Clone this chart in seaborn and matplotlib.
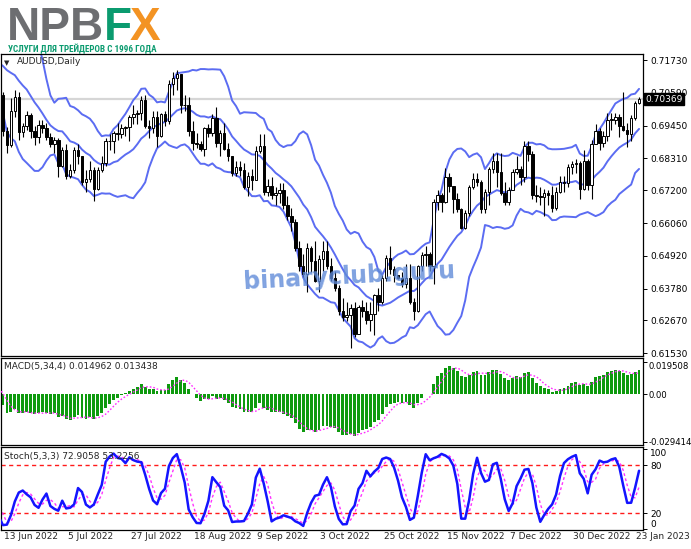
import matplotlib
matplotlib.use("Agg")
import matplotlib.pyplot as plt
import matplotlib.transforms as mtransforms
from matplotlib import font_manager
import seaborn as sns
import numpy as np
import pandas as pd

# bars before the first visible candle, only needed to start the indicators
warmup_high = [0.7385, 0.7410, 0.7460, 0.7455, 0.7385, 0.7240, 0.7200, 0.7170, 0.7180, 0.7160,
               0.7100, 0.7140, 0.7265, 0.7265, 0.7135, 0.7070, 0.6985, 0.7020, 0.6970, 0.6960,
               0.6990, 0.7060, 0.7070, 0.7055, 0.7075, 0.7100, 0.7125, 0.7105, 0.7135, 0.7170,
               0.7200, 0.7195, 0.7200, 0.7245, 0.7285, 0.7220, 0.7235, 0.7230, 0.7220, 0.7160]
warmup_low = [0.7330, 0.7325, 0.7385, 0.7365, 0.7225, 0.7135, 0.7110, 0.7105, 0.7055, 0.7050,
              0.7030, 0.7040, 0.7100, 0.7080, 0.7030, 0.6950, 0.6910, 0.6935, 0.6830, 0.6860,
              0.6875, 0.6970, 0.6930, 0.6925, 0.7020, 0.7030, 0.7055, 0.7035, 0.7050, 0.7120,
              0.7150, 0.7150, 0.7135, 0.7170, 0.7195, 0.7180, 0.7165, 0.7175, 0.7140, 0.7040]
warmup_close = [0.7350, 0.7395, 0.7450, 0.7375, 0.7240, 0.7165, 0.7125, 0.7140, 0.7160, 0.7065,
                0.7055, 0.7115, 0.7255, 0.7105, 0.7080, 0.6960, 0.6945, 0.6965, 0.6870, 0.6945,
                0.6985, 0.7040, 0.6950, 0.7040, 0.7045, 0.7090, 0.7070, 0.7080, 0.7125, 0.7160,
                0.7190, 0.7175, 0.7180, 0.7240, 0.7215, 0.7200, 0.7225, 0.7215, 0.7150, 0.7050]

# visible daily bars, 13 Jun 2022 .. 24 Jan 2023
high = [0.7060, 0.6940, 0.7040, 0.7070, 0.7060, 0.6955, 0.6995, 0.6990, 0.6945, 0.6965,
        0.6965, 0.6955, 0.6920, 0.6905, 0.6900, 0.6870, 0.6880, 0.6810, 0.6870, 0.6880,
        0.6840, 0.6790, 0.6820, 0.6800, 0.6800, 0.6840, 0.6900, 0.6915, 0.6925, 0.6955,
        0.6950, 0.6945, 0.6980, 0.7015, 0.7000, 0.7047, 0.7050, 0.6965, 0.6995, 0.6995,
        0.6990, 0.6995, 0.7105, 0.7130, 0.7137, 0.7110, 0.7050, 0.7045, 0.6960, 0.6920,
        0.6890, 0.6940, 0.6950, 0.6985, 0.7010, 0.6930, 0.6955, 0.6885, 0.6840, 0.6820,
        0.6820, 0.6815, 0.6785, 0.6795, 0.6875, 0.6915, 0.6915, 0.6760, 0.6765, 0.6730,
        0.6745, 0.6745, 0.6700, 0.6660, 0.6620, 0.6545, 0.6500, 0.6535, 0.6525, 0.6545,
        0.6495, 0.6545, 0.6545, 0.6485, 0.6440, 0.6390, 0.6345, 0.6330, 0.6325, 0.6330,
        0.6320, 0.6340, 0.6330, 0.6330, 0.6360, 0.6380, 0.6425, 0.6495, 0.6525, 0.6455,
        0.6425, 0.6435, 0.6465, 0.6465, 0.6345, 0.6460, 0.6505, 0.6525, 0.6505, 0.6690,
        0.6720, 0.6710, 0.6797, 0.6780, 0.6735, 0.6710, 0.6660, 0.6650, 0.6740, 0.6780,
        0.6780, 0.6755, 0.6725, 0.6800, 0.6850, 0.6850, 0.6850, 0.6750, 0.6730, 0.6795,
        0.6840, 0.6805, 0.6893, 0.6890, 0.6855, 0.6740, 0.6730, 0.6725, 0.6720, 0.6735,
        0.6730, 0.6770, 0.6770, 0.6810, 0.6820, 0.6830, 0.6820, 0.6860, 0.6830, 0.6895,
        0.6950, 0.6935, 0.6925, 0.6990, 0.6990, 0.6990, 0.6985, 0.7063, 0.6955, 0.6980,
        0.7030, 0.7045]
low = [0.6910, 0.6850, 0.6870, 0.6975, 0.6895, 0.6905, 0.6930, 0.6900, 0.6878, 0.6885,
       0.6920, 0.6895, 0.6870, 0.6850, 0.6765, 0.6800, 0.6760, 0.6762, 0.6780, 0.6810,
       0.6740, 0.6715, 0.6750, 0.6682, 0.6720, 0.6785, 0.6805, 0.6860, 0.6850, 0.6895,
       0.6900, 0.6910, 0.6890, 0.6950, 0.6950, 0.6965, 0.6935, 0.6900, 0.6920, 0.6870,
       0.6905, 0.6945, 0.6950, 0.7050, 0.7070, 0.6990, 0.6995, 0.6910, 0.6860, 0.6868,
       0.6855, 0.6840, 0.6905, 0.6910, 0.6870, 0.6840, 0.6860, 0.6820, 0.6770, 0.6770,
       0.6770, 0.6725, 0.6700, 0.6720, 0.6755, 0.6850, 0.6705, 0.6700, 0.6690, 0.6670,
       0.6675, 0.6655, 0.6615, 0.6580, 0.6510, 0.6440, 0.6420, 0.6365, 0.6435, 0.6400,
       0.6365, 0.6440, 0.6445, 0.6405, 0.6370, 0.6285, 0.6265, 0.6265, 0.6170, 0.6210,
       0.6220, 0.6280, 0.6255, 0.6230, 0.6215, 0.6300, 0.6325, 0.6405, 0.6430, 0.6400,
       0.6410, 0.6385, 0.6380, 0.6325, 0.6270, 0.6295, 0.6440, 0.6455, 0.6440, 0.6395,
       0.6650, 0.6645, 0.6675, 0.6715, 0.6640, 0.6645, 0.6585, 0.6585, 0.6630, 0.6725,
       0.6735, 0.6640, 0.6640, 0.6670, 0.6780, 0.6730, 0.6705, 0.6670, 0.6670, 0.6720,
       0.6775, 0.6740, 0.6750, 0.6820, 0.6690, 0.6680, 0.6670, 0.6630, 0.6670, 0.6645,
       0.6650, 0.6710, 0.6715, 0.6730, 0.6775, 0.6780, 0.6690, 0.6720, 0.6720, 0.6690,
       0.6880, 0.6860, 0.6870, 0.6890, 0.6930, 0.6950, 0.6905, 0.6925, 0.6870, 0.6890,
       0.6965, 0.7020]
close = [0.6925, 0.6878, 0.6995, 0.7045, 0.6922, 0.6945, 0.6982, 0.6925, 0.6905, 0.6948,
         0.6935, 0.6905, 0.6880, 0.6895, 0.6805, 0.6860, 0.6768, 0.6790, 0.6860, 0.6838,
         0.6748, 0.6760, 0.6790, 0.6725, 0.6790, 0.6815, 0.6890, 0.6892, 0.6920, 0.6915,
         0.6935, 0.6940, 0.6975, 0.6985, 0.6990, 0.7035, 0.6945, 0.6935, 0.6975, 0.6910,
         0.6985, 0.6960, 0.7090, 0.7110, 0.7125, 0.7015, 0.7015, 0.6925, 0.6885, 0.6880,
         0.6865, 0.6935, 0.6920, 0.6970, 0.6885, 0.6920, 0.6865, 0.6840, 0.6780, 0.6800,
         0.6790, 0.6730, 0.6770, 0.6755, 0.6855, 0.6875, 0.6715, 0.6735, 0.6705, 0.6710,
         0.6720, 0.6670, 0.6630, 0.6610, 0.6520, 0.6455, 0.6430, 0.6520, 0.6475, 0.6405,
         0.6480, 0.6510, 0.6455, 0.6415, 0.6380, 0.6300, 0.6280, 0.6285, 0.6310, 0.6220,
         0.6315, 0.6300, 0.6270, 0.6290, 0.6355, 0.6330, 0.6415, 0.6485, 0.6445, 0.6425,
         0.6415, 0.6395, 0.6415, 0.6330, 0.6300, 0.6455, 0.6495, 0.6500, 0.6455, 0.6680,
         0.6705, 0.6680, 0.6765, 0.6735, 0.6690, 0.6655, 0.6590, 0.6640, 0.6730, 0.6760,
         0.6750, 0.6655, 0.6715, 0.6795, 0.6820, 0.6785, 0.6710, 0.6680, 0.6720, 0.6785,
         0.6795, 0.6765, 0.6875, 0.6845, 0.6705, 0.6700, 0.6695, 0.6710, 0.6705, 0.6660,
         0.6715, 0.6750, 0.6745, 0.6800, 0.6810, 0.6815, 0.6725, 0.6820, 0.6740, 0.6880,
         0.6925, 0.6885, 0.6910, 0.6965, 0.6965, 0.6975, 0.6945, 0.6930, 0.6915, 0.6970,
         0.7025, 0.70369]

date_labels = ["13 Jun 2022", "5 Jul 2022", "27 Jul 2022", "18 Aug 2022", "9 Sep 2022",
               "3 Oct 2022", "25 Oct 2022", "15 Nov 2022", "7 Dec 2022", "30 Dec 2022",
               "23 Jan 2023"]
price_ticks = [0.71730, 0.70590, 0.69450, 0.68310, 0.67200, 0.66060, 0.64920, 0.63780,
               0.62670, 0.61530]
macd_ticks = [0.019508, 0.0, -0.029414]
macd_tick_labels = ["0.019508", "0.00", "-0.029414"]
stoch_ticks = [100, 80, 20, 0]
last_price = 0.70369

# ---- indicators (MT4 style) ----
n_warm = len(warmup_close)
df = pd.DataFrame({"high": warmup_high + high,
                   "low": warmup_low + low,
                   "close": warmup_close + close})
df["open"] = df["close"].shift(1).fillna(df["close"])
df["x"] = np.arange(len(df)) - n_warm

bb_mid = df["close"].rolling(14).mean()
bb_sd = df["close"].rolling(14).std(ddof=0)
df["bb_mid"] = bb_mid
df["bb_up"] = bb_mid + 2 * bb_sd
df["bb_low"] = bb_mid - 2 * bb_sd

df["macd"] = (df["close"].ewm(span=5, adjust=False).mean()
              - df["close"].ewm(span=34, adjust=False).mean())
df["macd_sig"] = df["macd"].rolling(4).mean()

hh = df["high"].rolling(5).max()
ll = df["low"].rolling(5).min()
df["k"] = 100 * (df["close"] - ll).rolling(3).sum() / (hh - ll).rolling(3).sum()
df["d"] = df["k"].rolling(3).mean()

vis = df[df["x"] >= 0]
lines = df[df["x"] >= -2]

# ---- figure ----
sns.set_style("white")
plt.rcParams["font.family"] = ["DejaVu Sans"]
W, H = 691, 549
fig = plt.figure(figsize=(W / 100, H / 100), dpi=100)


def rect(x0, y0, x1, y1):
    return [x0 / W, 1 - y1 / H, (x1 - x0) / W, (y1 - y0) / H]


ax = fig.add_axes(rect(1, 54, 643, 356))
ax_m = fig.add_axes(rect(1, 358, 643, 445))
ax_s = fig.add_axes(rect(1, 447, 643, 530))

tick_fs = 6.5
for a in (ax, ax_m, ax_s):
    a.set_xlim(-0.5, 162.0)
    a.set_facecolor("white")
    for sp in a.spines.values():
        sp.set_visible(True)
        sp.set_color("black")
        sp.set_linewidth(0.9)
    a.yaxis.tick_right()
    a.tick_params(axis="y", direction="out", length=3, width=0.7, labelsize=tick_fs,
                  pad=2, colors="black")
    a.set_xticks([])
    a.set_xlabel("")
    a.set_ylabel("")

# main panel: candles + bollinger bands
ax.set_ylim(0.61435, 0.71939)
ax.axhline(last_price, color="#d6d6d6", lw=1.6, zorder=0)
band_col = "#5b6cf2"
for col in ("bb_up", "bb_mid", "bb_low"):
    sns.lineplot(x=lines["x"].values, y=lines[col].values, ax=ax, color=band_col,
                 linewidth=1.4, zorder=2)

ax.vlines(vis["x"], vis["low"], vis["high"], color="black", lw=0.8, zorder=3)
body = (vis["close"] - vis["open"]).values
bottom = vis["open"].values
height = np.where(np.abs(body) < 0.00012, np.where(body >= 0, 0.00012, -0.00012), body)
up = body >= 0
ax.bar(vis["x"].values[up], height[up], bottom=bottom[up], width=0.62, color="white",
       edgecolor="black", linewidth=0.7, zorder=4)
ax.bar(vis["x"].values[~up], height[~up], bottom=bottom[~up], width=0.62, color="black",
       edgecolor="black", linewidth=0.7, zorder=4)

ax.set_yticks(price_ticks)
ax.set_yticklabels([f"{v:.5f}" for v in price_ticks])
ax.text(1.004, last_price, f"{last_price:.5f}", transform=mtransforms.blended_transform_factory(
    ax.transAxes, ax.transData), ha="left", va="center", fontsize=tick_fs, color="white",
    bbox=dict(boxstyle="square,pad=0.15", fc="black", ec="black"), zorder=10, clip_on=False)

fig.text(349 / W, 1 - 276 / H, "binaryclub.guru", fontsize=17, fontweight="bold",
         color="#5f8ad8", alpha=0.8, rotation=3, ha="center", va="center", zorder=20)

# MACD panel
ax_m.set_ylim(-0.0313, 0.0221)
ax_m.bar(vis["x"], vis["macd"], width=0.72, color="#0e9a0e", linewidth=0, zorder=2)
sns.lineplot(x=lines["x"].values, y=lines["macd_sig"].values, ax=ax_m, color="#ff2cff",
             linewidth=1.0, linestyle=(0, (1.2, 1.4)), zorder=3)
ax_m.set_yticks(macd_ticks)
ax_m.set_yticklabels(macd_tick_labels)
ax_m.tick_params(axis="y", labelsize=6.1, pad=1)
ax_m.get_yticklabels()[0].set_va("top")

# Stochastic panel
ax_s.set_ylim(-0.8, 102.4)
for lvl in (80, 20):
    ax_s.axhline(lvl, color="#ff1a1a", lw=1.0, linestyle=(0, (3, 2.5)), zorder=1)
sns.lineplot(x=lines["x"].values, y=lines["d"].values, ax=ax_s, color="#ff33ff",
             linewidth=1.0, linestyle=(0, (2, 1.8)), zorder=2)
sns.lineplot(x=lines["x"].values, y=lines["k"].values, ax=ax_s, color="#1414ff",
             linewidth=1.8, zorder=3)
ax_s.set_yticks(stoch_ticks)
ax_s.set_yticklabels([str(v) for v in stoch_ticks])
ax_s.get_yticklabels()[0].set_va("top")
ax_s.get_yticklabels()[-1].set_va("bottom")

# date axis under the stochastic panel
tick_pos = np.arange(len(date_labels)) * 16
ax_s.set_xticks(tick_pos)
ax_s.set_xticklabels([])
ax_s.tick_params(axis="x", direction="out", length=4, width=0.7, colors="black")
lbl_tr = mtransforms.blended_transform_factory(ax_s.transData, ax_s.transAxes)
for p, t in zip(tick_pos, date_labels):
    ax_s.text(p + 0.35, -0.025, t, transform=lbl_tr, ha="left", va="top",
              fontsize=tick_fs, clip_on=False)

# panel captions
fig.text(4 / W, 1 - 63 / H, "\u25bc", fontsize=5, ha="left", va="center")
fig.text(17 / W, 1 - 62 / H, "AUDUSD,Daily", fontsize=tick_fs, ha="left", va="center")
fig.text(4 / W, 1 - 367 / H, "MACD(5,34,4) 0.014962 0.013438", fontsize=tick_fs,
         ha="left", va="center")
fig.text(4 / W, 1 - 456 / H, "Stoch(5,3,3) 72.9058 53.2256", fontsize=tick_fs,
         ha="left", va="center")

# logo
logo_font = ["Liberation Sans", "DejaVu Sans"]
t_npb = fig.text(7 / W, 1 - 40 / H, "NPB", fontsize=33, fontweight="bold",
                 color="#6d6e71", family=logo_font, ha="left", va="baseline")
fig.canvas.draw()
r = fig.canvas.get_renderer()
bb = t_npb.get_window_extent(r)
t_f = fig.text(bb.x1 / W, 1 - 40 / H, "F", fontsize=33, fontweight="bold",
               color="#0b9b6f", family=logo_font, ha="left", va="baseline")
bb2 = t_f.get_window_extent(r)
fig.text((bb2.x1 - 3) / W, 1 - 40 / H, "X", fontsize=33, fontweight="bold",
         color="#f39323", family=logo_font, ha="left", va="baseline")

installed = {f.name for f in font_manager.fontManager.ttflist}
narrow = [n for n in ("Liberation Sans Narrow", "Roboto Condensed", "Open Sans Condensed")
          if n in installed]
sub = fig.text(8 / W, 1 - 52 / H, "УСЛУГИ ДЛЯ ТРЕЙДЕРОВ С 1996 ГОДА", fontsize=7,
               fontweight="bold", fontstretch="condensed", color="#0b9b6f",
               family=narrow + ["DejaVu Sans"], ha="left", va="baseline")
fig.canvas.draw()
w_sub = sub.get_window_extent(r).width
sub.set_fontsize(7 * 150 / w_sub)

fig.savefig("out.png", dpi=100)
